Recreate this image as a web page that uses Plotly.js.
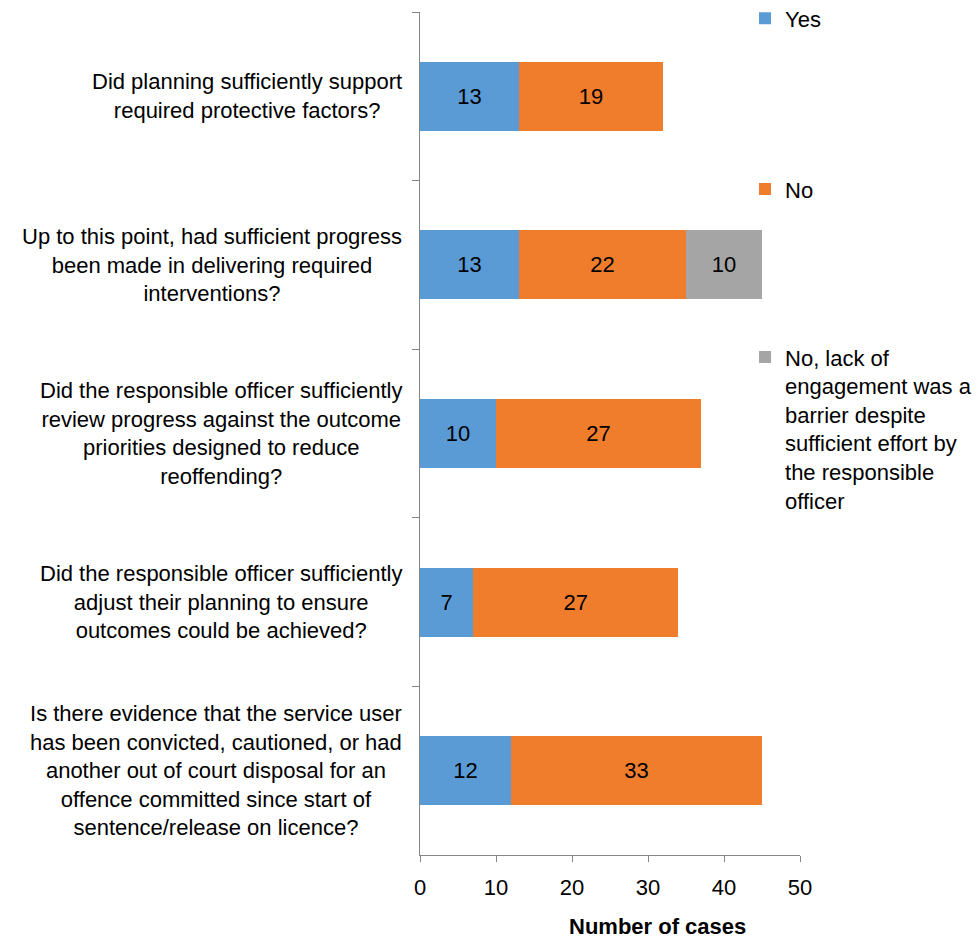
<!DOCTYPE html>
<html>
<head>
<meta charset="utf-8">
<script src="https://cdn.plot.ly/plotly-3.0.1.min.js"></script>
<style>
  html, body { margin: 0; padding: 0; background: #ffffff; }
  #chart { width: 976px; height: 938px; }
</style>
</head>
<body>
<div id="chart"></div>
<script>
const categories = [
  "Did planning sufficiently support<br>required protective factors?",
  "Up to this point, had sufficient progress<br>been made in delivering required<br>interventions?",
  "Did the responsible officer sufficiently<br>review progress against the outcome<br>priorities designed to reduce<br>reoffending?",
  "Did the responsible officer sufficiently<br>adjust their planning to ensure<br>outcomes could be achieved?",
  "Is there evidence that the service user<br>has been convicted, cautioned, or had<br>another out of court disposal for an<br>offence committed since start of<br>sentence/release on licence?"
];
const yesValues = [13, 13, 10, 7, 12];
const noValues = [19, 22, 27, 27, 33];
const barrierValues = [null, 10, null, null, null];
const seriesNames = [
  "Yes",
  "No",
  "No, lack of<br>engagement was a<br>barrier despite<br>sufficient effort by<br>the responsible<br>officer"
];
const xTickValues = [0, 10, 20, 30, 40, 50];
const xAxisTitle = "Number of cases";

const FONT = '"Liberation Sans", Arial, sans-serif';
const colors = ["#5B9BD5", "#F07D2C", "#A5A5A5"];

function barTrace(values, name, color, legendId) {
  return {
    type: 'bar',
    orientation: 'h',
    y: categories,
    x: values,
    name: name,
    legend: legendId,
    text: values.map(v => v === null ? '' : String(v)),
    textposition: 'inside',
    insidetextanchor: 'middle',
    textfont: { family: FONT, size: 22, color: '#000000' },
    marker: { color: color, line: { width: 0 } },
    width: 0.41,
    hoverinfo: 'skip'
  };
}

const data = [
  barTrace(yesValues, seriesNames[0], colors[0], 'legend'),
  barTrace(noValues, seriesNames[1], colors[1], 'legend2'),
  barTrace(barrierValues, seriesNames[2], colors[2], 'legend3')
];

const annotations = categories.map(c => ({
  xref: 'paper', yref: 'y',
  x: -0.042, y: c,
  xanchor: 'right', yanchor: 'middle',
  align: 'center',
  text: c,
  showarrow: false,
  font: { family: FONT, size: 22, color: '#000000' }
}));
annotations.push({
  xref: 'paper', yref: 'paper',
  x: 0.624, y: -0.0854,
  xanchor: 'center', yanchor: 'middle',
  text: '<b>' + xAxisTitle + '</b>',
  showarrow: false,
  font: { family: FONT, size: 22, color: '#000000' }
});

function legendAt(y) {
  return {
    x: 0.8553, xanchor: 'left',
    y: y, yanchor: 'top',
    valign: 'top',
    bgcolor: 'rgba(0,0,0,0)',
    borderwidth: 0,
    font: { family: FONT, size: 22, color: '#000000' }
  };
}

const layout = {
  width: 976,
  height: 938,
  margin: { l: 420, r: 176, t: 12, b: 83, pad: 0, autoexpand: false },
  paper_bgcolor: '#ffffff',
  plot_bgcolor: '#ffffff',
  font: { family: FONT, size: 22, color: '#000000' },
  barmode: 'stack',
  hovermode: false,
  showlegend: true,
  legend: legendAt(1.0174),
  legend2: legendAt(0.8146),
  legend3: legendAt(0.6153),
  xaxis: {
    range: [0, 50],
    tickvals: xTickValues,
    ticktext: xTickValues.map(String),
    showgrid: false,
    zeroline: false,
    showline: true,
    linecolor: '#868686',
    linewidth: 1,
    ticks: 'outside',
    ticklen: 6,
    tickcolor: '#868686',
    ticklabelstandoff: 7,
    tickfont: { family: FONT, size: 22, color: '#000000' },
    fixedrange: true
  },
  yaxis: {
    type: 'category',
    autorange: 'reversed',
    showgrid: false,
    zeroline: false,
    showline: true,
    linecolor: '#868686',
    linewidth: 1,
    ticks: 'outside',
    tickson: 'boundaries',
    ticklen: 7,
    tickcolor: '#868686',
    showticklabels: false,
    fixedrange: true
  },
  annotations: annotations
};

Plotly.newPlot('chart', data, layout, { displayModeBar: false, staticPlot: true });
</script>
</body>
</html>
